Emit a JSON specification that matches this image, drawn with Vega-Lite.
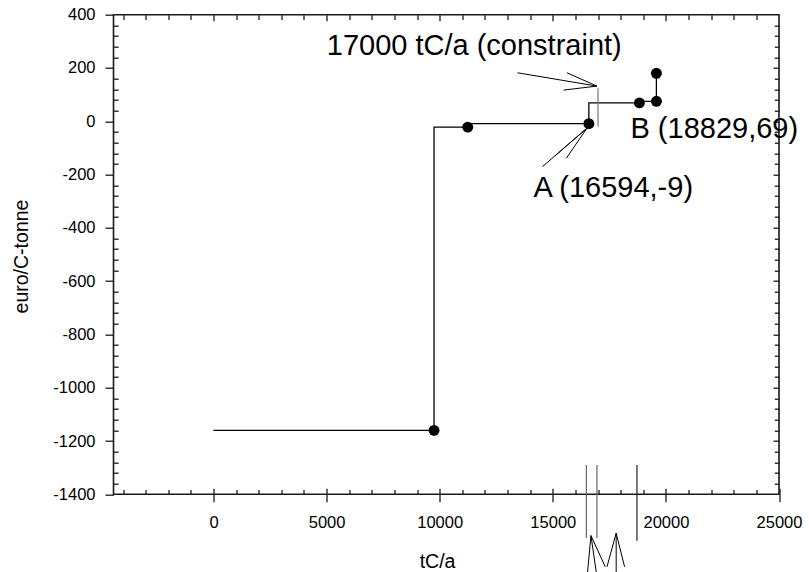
{
  "$schema": "https://vega.github.io/schema/vega-lite/v6.json",
  "width": 665.5,
  "height": 479.6,
  "autosize": "none",
  "padding": {"left": 113.5, "top": 14.7, "right": 30, "bottom": 77.7},
  "background": "white",
  "config": {
    "font": "Liberation Sans",
    "view": {"stroke": "#1a1a1a", "strokeWidth": 1.6},
    "axis": {
      "grid": false,
      "domain": false,
      "tickColor": "#1a1a1a",
      "tickWidth": 1.3,
      "labelColor": "black",
      "labelFont": "Liberation Sans",
      "labelFontSize": 16.5,
      "labelExpr": "'' + datum.value",
      "titleFont": "Liberation Sans",
      "titleFontSize": 19.5,
      "titleFontWeight": "normal",
      "titleColor": "black"
    }
  },
  "datasets": {
    "curve": [
      {"i": 0, "x": 0, "y": -1160},
      {"i": 1, "x": 9750, "y": -1160},
      {"i": 2, "x": 9750, "y": -22},
      {"i": 3, "x": 11240, "y": -22},
      {"i": 4, "x": 11240, "y": -9},
      {"i": 5, "x": 16594, "y": -9},
      {"i": 6, "x": 16594, "y": 69},
      {"i": 7, "x": 18829, "y": 69},
      {"i": 8, "x": 18829, "y": 75},
      {"i": 9, "x": 19580, "y": 75},
      {"i": 10, "x": 19580, "y": 180}
    ],
    "dots": [
      {"x": 9750, "y": -1160},
      {"x": 11240, "y": -22},
      {"x": 16594, "y": -9},
      {"x": 18829, "y": 69},
      {"x": 19580, "y": 75},
      {"x": 19580, "y": 180}
    ],
    "constraint": [
      {"x": 17000, "y": -20, "y2": 124}
    ],
    "pointers": [
      {"x": 13442, "y": 182, "x2": 16950, "y2": 132},
      {"x": 15626, "y": 182, "x2": 16950, "y2": 132},
      {"x": 15476, "y": 117, "x2": 16950, "y2": 132},
      {"x": 14547, "y": -170, "x2": 16510, "y2": -26},
      {"x": 15109, "y": -129, "x2": 16510, "y2": -26},
      {"x": 15595, "y": -139, "x2": 16510, "y2": -26},
      {"x": 16537, "y": -1692, "x2": 16687, "y2": -1555},
      {"x": 16922, "y": -1692, "x2": 16687, "y2": -1555},
      {"x": 17319, "y": -1672, "x2": 16687, "y2": -1555},
      {"x": 17395, "y": -1672, "x2": 17802, "y2": -1546},
      {"x": 17802, "y": -1692, "x2": 17802, "y2": -1546},
      {"x": 18173, "y": -1672, "x2": 17802, "y2": -1546}
    ],
    "markersGray": [
      {"x": 16484, "y": -1290, "y2": -1564},
      {"x": 16952, "y": -1290, "y2": -1564}
    ],
    "markersDark": [
      {"x": 18721, "y": -1290, "y2": -1574}
    ],
    "labels": [
      {"label": "17000 tC/a (constraint)", "x": 11527, "y": 249},
      {"label": "A (16594,-9)", "x": 17673, "y": -283},
      {"label": "B (18829,69)", "x": 22139, "y": -64}
    ]
  },
  "resolve": {"axis": {"x": "independent", "y": "independent"}},
  "layer": [
    {
      "data": {"name": "curve"},
      "mark": {"type": "line", "color": "black", "strokeWidth": 1.3, "clip": false},
      "encoding": {
        "x": {
          "field": "x", "type": "quantitative",
          "scale": {"domain": [-4420, 25000], "nice": false, "zero": false},
          "axis": {
            "orient": "bottom",
            "values": [0, 5000, 10000, 15000, 20000, 25000],
            "offset": -6,
            "tickSize": 13.4,
            "labelPadding": 13,
            "labelFlush": false,
            "labelOverlap": false,
            "title": "tC/a",
            "titleX": 323.5,
            "titleY": 78.7,
            "titleBaseline": "alphabetic",
            "titleAnchor": "middle"
          }
        },
        "y": {
          "field": "y", "type": "quantitative",
          "scale": {"domain": [-1400, 400], "nice": false, "zero": false},
          "axis": {
            "orient": "left",
            "values": [-1400, -1200, -1000, -800, -600, -400, -200, 0, 200, 400],
            "tickSize": 8.5,
            "labelPadding": 10,
            "labelFlush": false,
            "labelOverlap": false,
            "title": "euro/C-tonne",
            "titleX": -86,
            "titleY": 241.3,
            "titleBaseline": "alphabetic",
            "titleAnchor": "middle"
          }
        },
        "order": {"field": "i", "type": "quantitative"}
      }
    },
    {
      "data": {"name": "dots"},
      "mark": {"type": "circle", "color": "black", "opacity": 1, "size": 120, "clip": false},
      "encoding": {
        "x": {
          "field": "x", "type": "quantitative",
          "axis": {
            "orient": "bottom",
            "values": [-4000, -3000, -2000, -1000, 1000, 2000, 3000, 4000, 6000, 7000, 8000, 9000, 11000, 12000, 13000, 14000, 16000, 17000, 18000, 19000, 21000, 22000, 23000, 24000],
            "offset": -4.7,
            "tickSize": 4.7,
            "labels": false,
            "title": null
          }
        },
        "y": {
          "field": "y", "type": "quantitative",
          "axis": {
            "orient": "left",
            "values": [-1360, -1320, -1280, -1240, -1160, -1120, -1080, -1040, -960, -920, -880, -840, -760, -720, -680, -640, -560, -520, -480, -440, -360, -320, -280, -240, -160, -120, -80, -40, 40, 80, 120, 160, 240, 280, 320, 360],
            "offset": -4.7,
            "tickSize": 4.7,
            "labels": false,
            "title": null
          }
        }
      }
    },
    {
      "data": {"name": "constraint"},
      "mark": {"type": "rule", "color": "#777777", "strokeWidth": 1.2, "clip": false},
      "encoding": {
        "x": {
          "field": "x", "type": "quantitative",
          "axis": {
            "orient": "top",
            "values": [-4000, -3000, -2000, -1000, 1000, 2000, 3000, 4000, 6000, 7000, 8000, 9000, 11000, 12000, 13000, 14000, 16000, 17000, 18000, 19000, 21000, 22000, 23000, 24000],
            "offset": -4.7,
            "tickSize": 4.7,
            "labels": false,
            "title": null
          }
        },
        "y": {
          "field": "y", "type": "quantitative",
          "axis": {
            "orient": "right",
            "values": [-1360, -1320, -1280, -1240, -1160, -1120, -1080, -1040, -960, -920, -880, -840, -760, -720, -680, -640, -560, -520, -480, -440, -360, -320, -280, -240, -160, -120, -80, -40, 40, 80, 120, 160, 240, 280, 320, 360],
            "offset": -4.7,
            "tickSize": 4.7,
            "labels": false,
            "title": null
          }
        },
        "y2": {"field": "y2"}
      }
    },
    {
      "data": {"name": "markersDark"},
      "mark": {"type": "rule", "color": "#222222", "strokeWidth": 1.2, "clip": false},
      "encoding": {
        "x": {
          "field": "x", "type": "quantitative",
          "axis": {
            "orient": "top",
            "values": [0, 5000, 10000, 15000, 20000],
            "offset": -6,
            "tickSize": 6,
            "labels": false,
            "title": null
          }
        },
        "y": {
          "field": "y", "type": "quantitative",
          "axis": {
            "orient": "right",
            "values": [-1200, -1000, -800, -600, -400, -200, 0, 200],
            "offset": -6,
            "tickSize": 6,
            "labels": false,
            "title": null
          }
        },
        "y2": {"field": "y2"}
      }
    },
    {
      "data": {"name": "markersGray"},
      "mark": {"type": "rule", "color": "#666666", "strokeWidth": 1.2, "clip": false},
      "encoding": {
        "x": {"field": "x", "type": "quantitative", "axis": null},
        "y": {"field": "y", "type": "quantitative", "axis": null},
        "y2": {"field": "y2"}
      }
    },
    {
      "data": {"name": "pointers"},
      "mark": {"type": "rule", "color": "black", "strokeWidth": 1, "clip": false},
      "encoding": {
        "x": {"field": "x", "type": "quantitative", "axis": null},
        "y": {"field": "y", "type": "quantitative", "axis": null},
        "x2": {"field": "x2"},
        "y2": {"field": "y2"}
      }
    },
    {
      "data": {"name": "labels"},
      "mark": {"type": "text", "color": "black", "font": "Liberation Sans", "fontSize": 29, "align": "center", "baseline": "alphabetic", "clip": false},
      "encoding": {
        "x": {"field": "x", "type": "quantitative", "axis": null},
        "y": {"field": "y", "type": "quantitative", "axis": null},
        "text": {"field": "label"}
      }
    }
  ]
}
